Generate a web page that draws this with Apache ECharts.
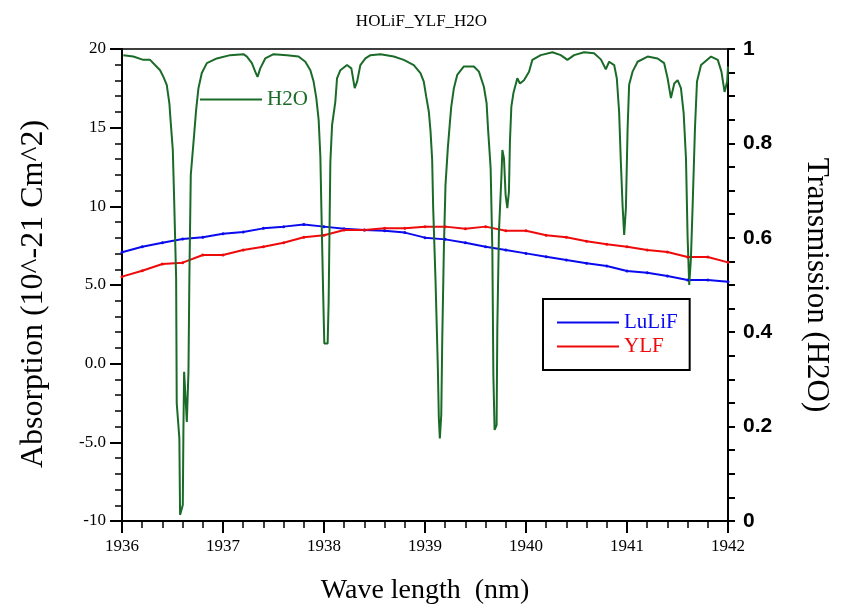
<!DOCTYPE html>
<html>
<head>
<meta charset="utf-8">
<script src="https://cdn.jsdelivr.net/npm/echarts@6/dist/echarts.min.js"></script>
<style>html,body{margin:0;padding:0;background:#fff}#c{width:843px;height:611px}</style>
</head>
<body>
<div id="c"></div>
<script>
// wavelengths (nm) for the two crystal absorption curves
const crystalX = [1936.0,1936.2,1936.4,1936.6,1936.8,1937.0,1937.2,1937.4,1937.6,1937.8,1938.0,1938.2,1938.4,1938.6,1938.8,1939.0,1939.2,1939.4,1939.6,1939.8,1940.0,1940.2,1940.4,1940.6,1940.8,1941.0,1941.2,1941.4,1941.6,1941.8,1942.0];
const luliF = [7.08,7.43,7.69,7.92,8.03,8.26,8.37,8.60,8.71,8.84,8.71,8.58,8.50,8.45,8.33,8.01,7.90,7.69,7.43,7.22,7.01,6.80,6.59,6.38,6.21,5.89,5.78,5.57,5.32,5.32,5.21];
const ylf = [5.53,5.91,6.33,6.42,6.91,6.91,7.22,7.43,7.69,8.03,8.16,8.50,8.50,8.60,8.60,8.71,8.71,8.58,8.71,8.45,8.45,8.16,8.03,7.78,7.59,7.43,7.22,7.10,6.78,6.78,6.44];
// H2O transmission
const h2oX = [1936.013,1936.112,1936.211,1936.278,1936.327,1936.377,1936.410,1936.443,1936.469,1936.483,1936.503,1936.516,1936.536,1936.542,1936.568,1936.575,1936.602,1936.608,1936.615,1936.642,1936.658,1936.667,1936.681,1936.714,1936.734,1936.757,1936.790,1936.840,1936.939,1937.071,1937.203,1937.237,1937.286,1937.319,1937.342,1937.369,1937.418,1937.501,1937.633,1937.748,1937.815,1937.865,1937.897,1937.924,1937.947,1937.964,1937.974,1937.991,1938.003,1938.036,1938.046,1938.056,1938.063,1938.080,1938.112,1938.129,1938.162,1938.228,1938.271,1938.304,1938.328,1938.360,1938.410,1938.460,1938.559,1938.691,1938.790,1938.889,1938.955,1938.988,1939.012,1939.038,1939.055,1939.071,1939.081,1939.104,1939.127,1939.137,1939.147,1939.161,1939.171,1939.187,1939.203,1939.226,1939.246,1939.260,1939.286,1939.319,1939.385,1939.484,1939.534,1939.583,1939.610,1939.623,1939.650,1939.667,1939.677,1939.689,1939.709,1939.716,1939.732,1939.756,1939.766,1939.782,1939.798,1939.815,1939.831,1939.841,1939.855,1939.875,1939.914,1939.940,1939.980,1940.030,1940.063,1940.146,1940.262,1940.344,1940.410,1940.476,1940.575,1940.674,1940.741,1940.790,1940.823,1940.873,1940.899,1940.922,1940.939,1940.956,1940.972,1940.989,1941.006,1941.021,1941.055,1941.105,1941.204,1941.303,1941.368,1941.402,1941.435,1941.468,1941.501,1941.534,1941.561,1941.584,1941.600,1941.616,1941.633,1941.650,1941.673,1941.693,1941.733,1941.832,1941.899,1941.935,1941.966,1941.992,1942.0];
const h2oT = [0.987,0.984,0.977,0.977,0.966,0.955,0.941,0.924,0.885,0.843,0.786,0.684,0.514,0.249,0.175,0.013,0.034,0.189,0.316,0.210,0.316,0.514,0.733,0.818,0.871,0.917,0.949,0.970,0.980,0.987,0.989,0.984,0.970,0.952,0.941,0.959,0.980,0.989,0.987,0.984,0.973,0.955,0.931,0.896,0.850,0.772,0.663,0.489,0.376,0.376,0.465,0.641,0.761,0.839,0.888,0.938,0.955,0.966,0.959,0.917,0.931,0.966,0.980,0.987,0.989,0.984,0.977,0.966,0.949,0.931,0.899,0.867,0.825,0.765,0.663,0.511,0.327,0.218,0.175,0.225,0.387,0.578,0.712,0.790,0.843,0.878,0.917,0.945,0.963,0.963,0.952,0.920,0.885,0.835,0.747,0.571,0.309,0.193,0.203,0.408,0.613,0.726,0.786,0.768,0.691,0.663,0.698,0.804,0.878,0.906,0.938,0.927,0.934,0.952,0.977,0.987,0.993,0.987,0.977,0.987,0.993,0.991,0.978,0.957,0.973,0.966,0.938,0.867,0.761,0.669,0.606,0.663,0.832,0.924,0.952,0.973,0.984,0.980,0.970,0.938,0.896,0.927,0.934,0.917,0.864,0.768,0.602,0.500,0.557,0.669,0.832,0.931,0.966,0.984,0.977,0.952,0.909,0.931,0.963];
const leftTicks = [-10,-5,0,5,10,15,20];
const rightTicks = [0,0.2,0.4,0.6,0.8,1];

const SERIF = "'Liberation Serif','Times New Roman',serif";
const SANS = "'Liberation Sans',Arial,sans-serif";
const GREEN = '#1b6b28', BLUE = '#0a0aee', RED = '#ee0a0a';

const pair = (xs, ys) => xs.map((x, i) => [x, ys[i]]);

const chart = echarts.init(document.getElementById('c'), null, {renderer: 'canvas'});
chart.setOption({
  animation: false,
  backgroundColor: '#fff',
  title: {
    text: 'HOLiF_YLF_H2O', left: 'center', top: 8,
    textStyle: {fontFamily: SERIF, fontSize: 17, fontWeight: 'normal', color: '#000'}
  },
  grid: {left: 122, right: 115, top: 49, bottom: 90, show: true, borderColor: '#000', borderWidth: 1.5, backgroundColor: 'transparent'},
  legend: [
    {
      data: [{name: 'H2O', textStyle: {color: GREEN}}], left: 200, top: 89, padding: 0, orient: 'vertical',
      icon: 'rect', itemWidth: 62, itemHeight: 2, itemGap: 0,
      textStyle: {fontFamily: SERIF, fontSize: 21, color: GREEN}
    },
    {
      data: [{name: 'LuLiF', textStyle: {color: BLUE}}, {name: 'YLF', textStyle: {color: RED}}],
      left: 543, top: 299, orient: 'vertical',
      padding: [13, 12, 13, 14], icon: 'rect', itemWidth: 62, itemHeight: 2, itemGap: 3,
      borderColor: '#000', borderWidth: 2,
      textStyle: {fontFamily: SERIF, fontSize: 21}
    }
  ],
  xAxis: {
    type: 'value', min: 1936, max: 1942, interval: 1,
    name: 'Wave length  (nm)', nameLocation: 'middle', nameGap: 56,
    nameTextStyle: {fontFamily: SERIF, fontSize: 28, color: '#000'},
    axisLine: {onZero: false, lineStyle: {color: '#000', width: 2}},
    axisTick: {show: true, inside: false, length: 12, lineStyle: {color: '#000', width: 2}},
    minorTick: {show: true, splitNumber: 5, length: 7, lineStyle: {color: '#000', width: 1.5}},
    splitLine: {show: false},
    axisLabel: {fontFamily: SERIF, fontSize: 17, color: '#000', margin: 17, formatter: v => String(v)}
  },
  yAxis: [
    {
      type: 'value', position: 'left', min: leftTicks[0], max: leftTicks[leftTicks.length - 1], interval: 5,
      name: 'Absorption (10^-21 Cm^2)', nameLocation: 'middle', nameRotate: 90, nameGap: 72,
      nameTextStyle: {fontFamily: SERIF, fontSize: 32, color: '#000', padding: [0, 18, 0, 0]},
      axisLine: {show: true, onZero: false, lineStyle: {color: '#000', width: 2}},
      axisTick: {show: true, inside: false, length: 12, lineStyle: {color: '#000', width: 2}},
      minorTick: {show: true, splitNumber: 5, length: 7, lineStyle: {color: '#000', width: 1.5}},
      splitLine: {show: false},
      axisLabel: {
        fontFamily: SERIF, fontSize: 17, color: '#000', margin: 16,
        formatter: v => (Math.abs(v) >= 10 ? String(v) : v.toFixed(1))
      }
    },
    {
      type: 'value', position: 'right', min: rightTicks[0], max: rightTicks[rightTicks.length - 1], interval: 0.2,
      name: 'Transmission (H2O)', nameLocation: 'middle', nameRotate: -90, nameGap: 73,
      nameTextStyle: {fontFamily: SERIF, fontSize: 31, color: '#000'},
      axisLine: {show: true, onZero: false, lineStyle: {color: '#000', width: 2}},
      axisTick: {show: true, inside: false, length: 7, lineStyle: {color: '#000', width: 2}},
      minorTick: {show: true, splitNumber: 4, length: 7, lineStyle: {color: '#000', width: 2}},
      splitLine: {show: false},
      axisLabel: {fontFamily: SANS, fontSize: 21, fontWeight: 'bold', color: '#000', margin: 15, formatter: v => String(+v.toFixed(1))}
    }
  ],
  series: [
    {
      name: 'LuLiF', type: 'line', yAxisIndex: 0, data: pair(crystalX, luliF),
      symbol: 'circle', symbolSize: 3, showSymbol: true,
      lineStyle: {color: BLUE, width: 2}, itemStyle: {color: BLUE}
    },
    {
      name: 'YLF', type: 'line', yAxisIndex: 0, data: pair(crystalX, ylf),
      symbol: 'circle', symbolSize: 3, showSymbol: true,
      lineStyle: {color: RED, width: 2}, itemStyle: {color: RED}
    },
    {
      name: 'H2O', type: 'line', yAxisIndex: 1, data: pair(h2oX, h2oT),
      symbol: 'none', lineStyle: {color: GREEN, width: 2}, itemStyle: {color: GREEN}
    }
  ]
});
</script>
</body>
</html>
